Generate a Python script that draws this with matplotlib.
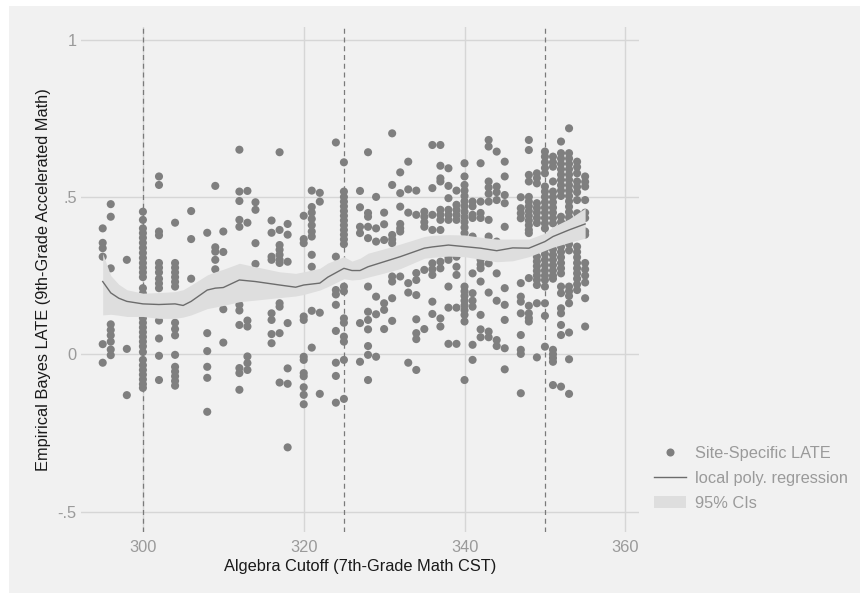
import numpy as np
import matplotlib.pyplot as plt
from matplotlib.patches import Rectangle, Patch
from matplotlib.lines import Line2D

plt.rcParams['font.family'] = ['Liberation Sans', 'DejaVu Sans']

## ----------------------------- DATA ----------------------------- ##
## algebra cutoffs that have at least one site
cutoffs = [295, 296, 298, 300, 302, 304, 306, 308, 309, 310, 312, 313, 314, 316, 317, 318,
           320, 321, 322, 324, 325, 327, 328, 329, 330, 331, 332, 333, 334, 335, 336, 337,
           338, 339, 340, 341, 342, 343, 344, 345, 347, 348, 349, 350, 351, 352, 353, 354, 355]

## site-specific empirical Bayes LATEs, one list per cutoff
site_late = [
    [0.40, 0.354, 0.337, 0.31, 0.032, -0.027],
    [0.477, 0.437, 0.273, 0.095, 0.077, 0.06, 0.04, 0.015, -0.003],
    [0.30, 0.017, -0.13],
    [0.453, 0.427, 0.40, 0.385, 0.37, 0.354, 0.338, 0.322, 0.306, 0.29, 0.275, 0.26, 0.245, 0.21, 0.193,
     0.115, 0.10, 0.085, 0.07, 0.055, 0.04, 0.025, 0.007, -0.018, -0.035, -0.05, -0.065, -0.08, -0.095, -0.107],
    [0.565, 0.538, 0.39, 0.378, 0.29, 0.275, 0.26, 0.24, 0.225, 0.21, 0.107, 0.05, -0.005, -0.082],
    [0.418, 0.29, 0.275, 0.26, 0.245, 0.23, 0.215, 0.10, 0.08, 0.06, -0.002, -0.04, -0.055, -0.07, -0.085, -0.10],
    [0.455, 0.366, 0.24],
    [0.386, 0.067, 0.01, -0.04, -0.075, -0.183],
    [0.535, 0.34, 0.326, 0.30, 0.27],
    [0.39, 0.325, 0.143, 0.037],
    [0.65, 0.517, 0.487, 0.427, 0.405, 0.157, 0.139, 0.093, -0.044, -0.06, -0.113],
    [0.519, 0.418, 0.107, 0.088, -0.007, -0.028, -0.05],
    [0.483, 0.459, 0.353, 0.287],
    [0.425, 0.386, 0.31, 0.30, 0.13, 0.109, 0.064, 0.035],
    [0.642, 0.395, 0.347, 0.332, 0.316, 0.30, 0.29, 0.162, 0.151, 0.067, -0.09],
    [0.414, 0.38, 0.294, 0.099, -0.045, -0.094, -0.296],
    [0.44, 0.366, 0.353, 0.12, 0.109, -0.008, -0.018, -0.06, -0.07, -0.105, -0.129, -0.159],
    [0.52, 0.468, 0.45, 0.43, 0.41, 0.39, 0.374, 0.316, 0.278, 0.138, 0.021],
    [0.513, 0.485, 0.132, -0.126],
    [0.673, 0.31, 0.204, 0.19, 0.157, 0.074, -0.027, -0.069, -0.154],
    [0.61, 0.517, 0.50, 0.485, 0.47, 0.455, 0.44, 0.425, 0.41, 0.395, 0.38, 0.365, 0.35,
     0.215, 0.20, 0.114, 0.10, 0.056, 0.04, -0.018, -0.142],
    [0.519, 0.467, 0.405, 0.385, 0.099, -0.024],
    [0.642, 0.449, 0.437, 0.405, 0.369, 0.215, 0.135, 0.109, 0.079, 0.026, -0.002, -0.082],
    [0.50, 0.40, 0.358, 0.183, 0.127, -0.008],
    [0.45, 0.413, 0.363, 0.162, 0.141, 0.08],
    [0.702, 0.538, 0.379, 0.365, 0.353, 0.247, 0.231, 0.178, 0.106],
    [0.578, 0.512, 0.469, 0.414, 0.40, 0.39, 0.247],
    [0.612, 0.524, 0.45, 0.226, 0.196, -0.027],
    [0.52, 0.443, 0.258, 0.236, 0.188, 0.111, 0.067, 0.048, -0.05],
    [0.453, 0.437, 0.42, 0.405, 0.268, 0.08],
    [0.665, 0.528, 0.443, 0.395, 0.289, 0.27, 0.252, 0.167, 0.128],
    [0.665, 0.599, 0.559, 0.549, 0.459, 0.443, 0.427, 0.395, 0.294, 0.273, 0.114, 0.088],
    [0.591, 0.535, 0.496, 0.459, 0.443, 0.427, 0.31, 0.30, 0.215, 0.148, 0.033],
    [0.52, 0.475, 0.459, 0.443, 0.427, 0.31, 0.278, 0.252, 0.148, 0.033],
    [0.607, 0.565, 0.538, 0.52, 0.503, 0.486, 0.47, 0.453, 0.436, 0.42, 0.403, 0.385,
     0.215, 0.20, 0.185, 0.17, 0.155, 0.14, 0.125, 0.104, -0.082],
    [0.485, 0.47, 0.443, 0.433, 0.374, 0.257, 0.194, 0.17, 0.151, 0.03, -0.018],
    [0.607, 0.485, 0.449, 0.433, 0.30, 0.285, 0.273, 0.231, 0.125, 0.079, 0.054],
    [0.681, 0.66, 0.549, 0.53, 0.51, 0.485, 0.427, 0.374, 0.347, 0.289, 0.196, 0.072, 0.054],
    [0.644, 0.533, 0.515, 0.49, 0.358, 0.257, 0.17, 0.045, 0.026],
    [0.612, 0.565, 0.506, 0.48, 0.405, 0.332, 0.21, 0.157, 0.109, 0.019, -0.048],
    [0.499, 0.464, 0.448, 0.432, 0.321, 0.226, 0.183, 0.167, 0.13, 0.061, 0.014, 0.001, -0.124],
    [0.681, 0.649, 0.57, 0.549, 0.50, 0.485, 0.47, 0.455, 0.44, 0.425, 0.41, 0.395, 0.385,
     0.242, 0.154, 0.13, 0.115, 0.104],
    [0.575, 0.56, 0.543, 0.48, 0.465, 0.45, 0.433, 0.417, 0.31, 0.295, 0.28, 0.265, 0.25,
     0.236, 0.22, 0.162, -0.01],
    [0.644, 0.628, 0.61, 0.592, 0.575, 0.533, 0.517, 0.50, 0.483, 0.466, 0.45, 0.433, 0.416, 0.40,
     0.353, 0.335, 0.318, 0.30, 0.283, 0.266, 0.25, 0.236, 0.215, 0.162, 0.122, 0.024],
    [0.628, 0.61, 0.596, 0.549, 0.517, 0.50, 0.483, 0.466, 0.45, 0.433, 0.416, 0.35, 0.333, 0.316,
     0.30, 0.283, 0.266, 0.25, 0.24, 0.014, 0.0, -0.012, -0.024, -0.098],
    [0.676, 0.639, 0.622, 0.605, 0.588, 0.571, 0.554, 0.537, 0.52, 0.503, 0.437, 0.42, 0.403, 0.385,
     0.342, 0.325, 0.308, 0.29, 0.273, 0.257, 0.215, 0.194, 0.146, 0.13, 0.093, 0.061, -0.103],
    [0.718, 0.639, 0.622, 0.605, 0.588, 0.571, 0.554, 0.537, 0.52, 0.503, 0.486, 0.469, 0.452, 0.435,
     0.418, 0.40, 0.385, 0.374, 0.35, 0.33, 0.215, 0.20, 0.185, 0.162, 0.069, -0.016, -0.126],
    [0.612, 0.595, 0.575, 0.549, 0.532, 0.515, 0.49, 0.448, 0.43, 0.413, 0.395, 0.342, 0.325, 0.308,
     0.29, 0.273, 0.257, 0.24, 0.222, 0.204],
    [0.565, 0.548, 0.533, 0.49, 0.45, 0.433, 0.39, 0.38, 0.29, 0.27, 0.25, 0.228, 0.178, 0.088],
]

## local polynomial fit and its 95% CI
fit_x = [295, 296, 297, 298, 300, 302, 304, 305, 306, 308, 309, 310, 312, 314, 317, 319, 320, 322,
         323, 325, 326, 327, 328, 330, 332, 335, 336, 338, 340, 342, 344, 346, 348, 350, 351, 353, 355]
fit_y = [0.231, 0.195, 0.178, 0.168, 0.160, 0.158, 0.160, 0.155, 0.168, 0.204, 0.210, 0.212, 0.236,
         0.231, 0.220, 0.213, 0.220, 0.226, 0.245, 0.273, 0.266, 0.266, 0.278, 0.294, 0.310, 0.337,
         0.341, 0.347, 0.342, 0.337, 0.329, 0.338, 0.337, 0.358, 0.374, 0.395, 0.414]
ci_hi = [0.320, 0.250, 0.222, 0.205, 0.194, 0.196, 0.199, 0.205, 0.220, 0.252, 0.262, 0.270, 0.289,
         0.278, 0.262, 0.257, 0.262, 0.273, 0.290, 0.310, 0.296, 0.305, 0.321, 0.335, 0.350, 0.374,
         0.378, 0.380, 0.379, 0.372, 0.366, 0.366, 0.366, 0.385, 0.405, 0.430, 0.464]
ci_lo = [0.125, 0.127, 0.124, 0.120, 0.120, 0.114, 0.114, 0.118, 0.125, 0.145, 0.150, 0.155, 0.167,
         0.172, 0.180, 0.185, 0.190, 0.204, 0.215, 0.240, 0.236, 0.238, 0.245, 0.258, 0.272, 0.305,
         0.308, 0.312, 0.310, 0.302, 0.294, 0.297, 0.310, 0.330, 0.340, 0.355, 0.369]

cutoff_lines = [300, 325, 350]  ## the three common cutoffs

## ------------------------------------- PLOT ------------------------------------- ##
W, H = 860, 593
fig = plt.figure(figsize=(W / 100, H / 100), dpi=100)
fig.patch.set_facecolor('white')
fig.patches.append(Rectangle((9 / W, 0), 1, 1 - 6 / H, transform=fig.transFigure,
                             facecolor='#f1f1f1', edgecolor='none', zorder=-10))

ax = fig.add_axes([81 / W, 1 - 532 / H, (639 - 81) / W, (532 - 27) / H])
ax.set_facecolor('#f1f1f1')

pts_x = np.concatenate([[c] * len(v) for c, v in zip(cutoffs, site_late)])
pts_y = np.concatenate(site_late)
ax.scatter(pts_x, pts_y, s=34, color='#7f7f7f', edgecolors='none', zorder=2)

ax.fill_between(fit_x, ci_lo, ci_hi, color='#dedede', lw=0, zorder=3)
ax.plot(fit_x, fit_y, color='#6c6c6c', lw=1, zorder=4)

for c in cutoff_lines:
    ax.axvline(c, color='#7a7a7a', lw=0.9, dashes=(4, 3), zorder=1.5)

ax.set_xlim(292.3, 361.7)
ax.set_ylim(-0.565, 1.04)
ax.set_xticks([300, 320, 340, 360])
ax.set_yticks([-0.5, 0, 0.5, 1])
ax.set_yticklabels(['-.5', '0', '.5', '1'])
ax.grid(True, color='#d6d6d6', lw=1)
ax.set_axisbelow(True)
for s in ax.spines.values():
    s.set_visible(False)
ax.tick_params(length=0, labelsize=11.8, labelcolor='#9a9a9a')
ax.tick_params(axis='x', pad=6)
ax.tick_params(axis='y', pad=3)

ax.set_xlabel('Algebra Cutoff (7th-Grade Math CST)', fontsize=11.8, color='#1a1a1a', labelpad=3)
ax.set_ylabel('Empirical Bayes LATE (9th-Grade Accelerated Math)', fontsize=11.8, color='#1a1a1a',
              labelpad=5)

handles = [Line2D([], [], ls='none', marker='o', ms=5.8, color='#7f7f7f', mec='none'),
           Line2D([], [], color='#6c6c6c', lw=1),
           Patch(facecolor='#dedede', edgecolor='none')]
labels = ['Site-Specific LATE', 'local poly. regression', '95% CIs']
fig.legend(handles, labels, loc='upper left', bbox_to_anchor=(646 / W, 1 - 438 / H),
           frameon=False, fontsize=11.8, labelcolor='#9a9a9a', handlelength=1.95,
           handletextpad=0.55, labelspacing=0.6, borderpad=0)

fig.savefig('out.png', dpi=100, facecolor=fig.get_facecolor())
